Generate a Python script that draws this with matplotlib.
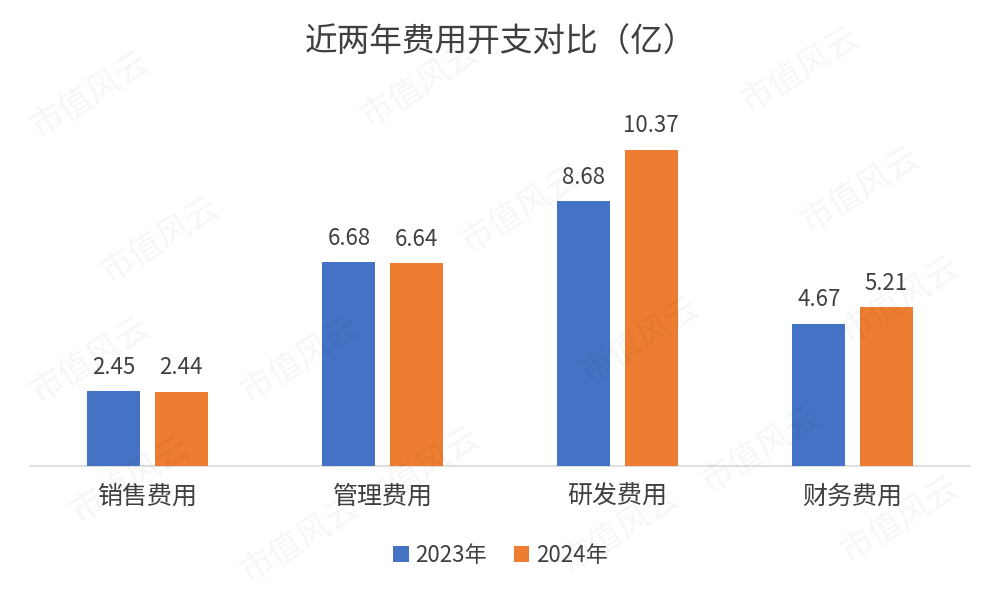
import matplotlib
matplotlib.use("Agg")
import matplotlib.pyplot as plt
import numpy as np

plt.rcParams['font.family'] = ['Noto Sans CJK SC', 'DejaVu Sans']

categories = ["销售费用", "管理费用", "研发费用", "财务费用"]
series_names = ["2023年", "2024年"]
values_2023 = [2.45, 6.68, 8.68, 4.67]
values_2024 = [2.44, 6.64, 10.37, 5.21]
title = "近两年费用开支对比（亿）"
colors = ["#4472C4", "#ED7D31"]
text_color = "#404040"

fig = plt.figure(figsize=(10.01, 6.0), dpi=100)
ax = fig.add_axes([30/1001, (600-466)/600, 940/1001, 366/600])

x = np.arange(len(categories))
w = 0.225
off = 0.143
b1 = ax.bar(x - off, values_2023, w, color=colors[0], label=series_names[0], zorder=3)
b2 = ax.bar(x + off, values_2024, w, color=colors[1], label=series_names[1], zorder=3)

for bars, vals in ((b1, values_2023), (b2, values_2024)):
    for r, v in zip(bars, vals):
        ax.annotate(f"{v:.2f}", (r.get_x() + r.get_width()/2, v), xytext=(0, 9),
                    textcoords="offset points", ha="center", va="bottom",
                    fontsize=16, color=text_color)

ax.set_xlim(-0.5, len(categories) - 0.5)
ax.set_ylim(0, 12)
ax.set_yticks([])
ax.set_xticks(x)
ax.set_xticklabels(categories, fontsize=18, color=text_color)
ax.tick_params(axis='x', length=0, pad=13)
for s in ("top", "right", "left"):
    ax.spines[s].set_visible(False)
ax.spines["bottom"].set_color("#d9d9d9")
ax.spines["bottom"].set_linewidth(1.2)

fig.text(0.5, 1 - 43/600, title, ha="center", va="center", fontsize=23.5, color=text_color)

leg = fig.legend(loc="center", bbox_to_anchor=(0.5, 1 - 555/600), ncol=2, frameon=False,
                 fontsize=16, handlelength=0.7, handleheight=0.7, handletextpad=0.3,
                 columnspacing=1.2)
for t in leg.get_texts():
    t.set_color(text_color)

# watermark
wm_pos = [(90, 95), (420, 85), (800, 70), (160, 240), (520, 210), (860, 190),
          (90, 360), (300, 360), (640, 340), (900, 300), (130, 480), (420, 470),
          (760, 450), (300, 540), (620, 530), (900, 520)]
for px, py in wm_pos:
    fig.text(px/1001, 1 - py/600, "市值风云", rotation=32, fontsize=24,
             color="#000000", alpha=0.04, ha="center", va="center", zorder=0)

fig.savefig("out.png", dpi=100, facecolor="white")
